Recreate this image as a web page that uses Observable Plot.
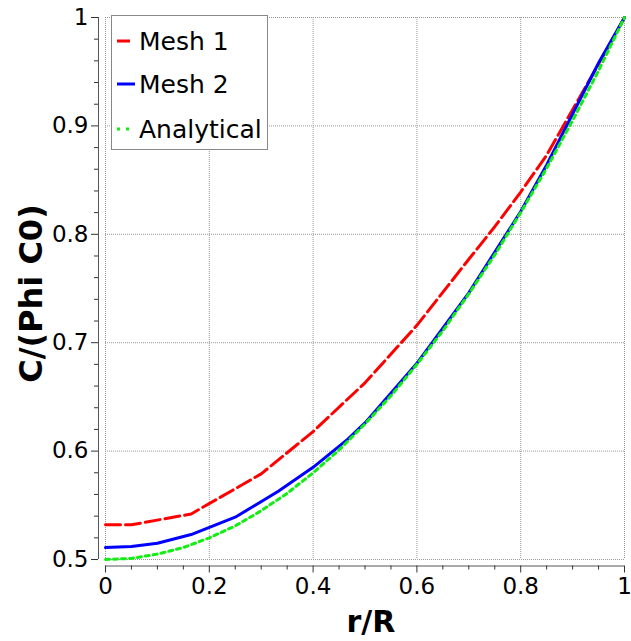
<!DOCTYPE html>
<html>
<head>
<meta charset="utf-8">
<script src="https://cdn.jsdelivr.net/npm/d3@7"></script>
<script src="https://cdn.jsdelivr.net/npm/@observablehq/plot@0.6"></script>
<style>
  html, body { margin: 0; padding: 0; background: white; overflow: hidden; }
  #wrap { position: relative; width: 631px; height: 641px; font-family: "DejaVu Sans", sans-serif; }
  #legend { position: absolute; left: 111px; top: 15px; width: 157px; height: 135px;
            border: 1px solid #888; background: white; box-sizing: border-box; }
  .row { position: absolute; left: 0; height: 30px; display: flex; align-items: center; font-size: 25px; color: #000; }
  .row svg { margin-left: 4px; margin-right: 4px; }
</style>
</head>
<body>
<div id="wrap"><div id="chart"></div><div id="legend"></div></div>
<script>
// Data
const seriesNames = ["Mesh 1", "Mesh 2", "Analytical"];
const seriesColors = ["#ff0000", "#0000ff", "#11ee11"];
const seriesDash = ["15,5", null, "4,4"];

const rMesh1 = [0, 0.05, 0.165, 0.3, 0.4, 0.5, 0.6, 0.7, 0.75, 0.8, 0.85, 0.9, 0.95, 1];
const cMesh1 = [0.532, 0.532, 0.542, 0.579, 0.618, 0.663, 0.716, 0.777, 0.807, 0.839, 0.873, 0.915, 0.957, 1.0];

const rMesh2 = [0, 0.05, 0.1, 0.165, 0.25, 0.333, 0.4, 0.467, 0.5, 0.6, 0.7, 0.8, 0.85, 0.9, 0.95, 1];
const cMesh2 = [0.511, 0.512, 0.515, 0.523, 0.539, 0.563, 0.585, 0.611, 0.626, 0.681, 0.746, 0.821, 0.864, 0.911, 0.958, 1.0];

const rAnalytical = [0, 0.05, 0.1, 0.15, 0.2, 0.25, 0.3, 0.35, 0.4, 0.45, 0.5, 0.55, 0.6, 0.65, 0.7, 0.75, 0.8, 0.85, 0.9, 0.95, 1];
const cAnalytical = [0.5, 0.501, 0.505, 0.511, 0.52, 0.531, 0.545, 0.561, 0.58, 0.601, 0.625, 0.651, 0.68, 0.711, 0.745, 0.781, 0.82, 0.861, 0.905, 0.951, 1.0];

const xTicks = [0, 0.2, 0.4, 0.6, 0.8, 1];
const xMinorTicks = [0.05, 0.1, 0.15, 0.25, 0.3, 0.35, 0.45, 0.5, 0.55, 0.65, 0.7, 0.75, 0.85, 0.9, 0.95];
const yTicks = [0.5, 0.6, 0.7, 0.8, 0.9, 1];
const yMinorTicks = [0.52, 0.54, 0.56, 0.58, 0.62, 0.64, 0.66, 0.68, 0.72, 0.74, 0.76, 0.78, 0.82, 0.84, 0.86, 0.88, 0.92, 0.94, 0.96, 0.98];

const xLabel = "r/R";
const yLabel = "C/(Phi C0)";

const toRows = (rs, cs) => rs.map((r, i) => ({r, c: cs[i]}));
const seriesData = [toRows(rMesh1, cMesh1), toRows(rMesh2, cMesh2), toRows(rAnalytical, cAnalytical)];

const gridStyle = {stroke: "#999", strokeOpacity: 1, strokeDasharray: "1,1"};

const chart = Plot.plot({
  width: 631,
  height: 641,
  marginLeft: 105,
  marginRight: 7,
  marginTop: 17,
  marginBottom: 82,
  style: {fontFamily: "DejaVu Sans", background: "white", color: "black", overflow: "visible"},
  x: {domain: [0, 1]},
  y: {domain: [0.5, 1]},
  marks: [
    Plot.gridX(xTicks, gridStyle),
    Plot.gridY(yTicks, gridStyle),
    Plot.ruleX([0], {dx: -7, stroke: "#555"}),
    Plot.ruleY([0.5], {dy: 6.5, stroke: "#555"}),
    Plot.axisX(xTicks, {tickSize: 7, dy: 6.5, tickPadding: 5, fontSize: 23, stroke: "#333", fill: "black", label: null, tickFormat: d => String(d)}),
    Plot.axisX(xMinorTicks, {tickSize: 4, dy: 6.5, stroke: "#333", fill: "none"}),
    Plot.axisY(yTicks, {tickSize: 7, dx: -7, tickPadding: 3, fontSize: 23, stroke: "#333", fill: "black", label: null, tickFormat: d => String(d)}),
    Plot.axisY(yMinorTicks, {tickSize: 4, dx: -7, stroke: "#333", fill: "none"}),
    Plot.text([xLabel], {frameAnchor: "bottom", lineAnchor: "middle", textAnchor: "middle", text: d => d, dx: 6, dy: 63, fontSize: 30, fontWeight: "bold", fill: "black"}),
    Plot.text([yLabel], {frameAnchor: "left", lineAnchor: "middle", textAnchor: "middle", text: d => d, rotate: -90, dx: -74, dy: 5, fontSize: 32, fontWeight: "bold", fill: "black"}),
    ...seriesData.map((data, i) => Plot.line(data, {
      x: "r", y: "c", stroke: seriesColors[i], strokeWidth: 3,
      strokeDasharray: seriesDash[i] || undefined
    }))
  ]
});
document.getElementById("chart").appendChild(chart);

// Legend (inside plot, top-left)
const legend = document.getElementById("legend");
const rowTops = [10, 53, 98];
seriesNames.forEach((name, i) => {
  const row = document.createElement("div");
  row.className = "row";
  row.style.top = rowTops[i] + "px";
  const svgNS = "http://www.w3.org/2000/svg";
  const svg = document.createElementNS(svgNS, "svg");
  svg.setAttribute("width", "19");
  svg.setAttribute("height", "10");
  const line = document.createElementNS(svgNS, "line");
  line.setAttribute("x1", "1");
  line.setAttribute("x2", i === 0 ? "14" : "19");
  line.setAttribute("y1", "5");
  line.setAttribute("y2", "5");
  line.setAttribute("stroke", seriesColors[i]);
  line.setAttribute("stroke-width", "3");
  if (i === 2) line.setAttribute("stroke-dasharray", "3,6");
  svg.appendChild(line);
  row.appendChild(svg);
  const span = document.createElement("span");
  span.textContent = name;
  row.appendChild(span);
  legend.appendChild(row);
});
</script>
</body>
</html>
